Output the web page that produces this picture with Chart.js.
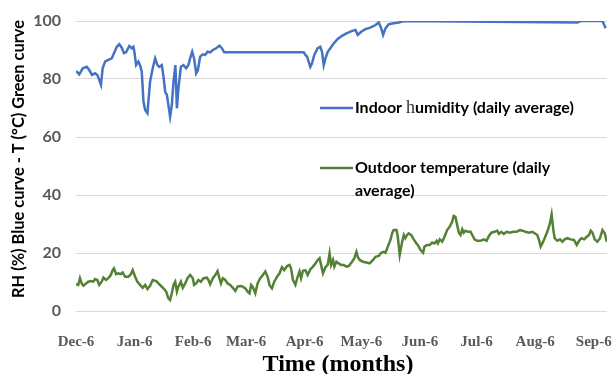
<!DOCTYPE html>
<html>
<head>
<meta charset="utf-8">
<script src="https://cdn.jsdelivr.net/npm/chart.js@4.4.1/dist/chart.umd.min.js"></script>
<style>
  html, body { margin: 0; padding: 0; background: #ffffff; }
  #wrap { width: 613px; height: 374px; }
</style>
</head>
<body>
<div id="wrap"><canvas id="chart" width="613" height="374"></canvas></div>
<script>
// Days counted from 6 December; daily averages.
const humidityDays = [
  0, 1.7, 3.6, 5.7, 7.0, 8.5, 10.1, 11.3, 12.3, 13.2,
  14.1, 15.4, 17.1, 18.9, 20.1, 21.6, 22.9, 24.2, 25.4, 26.5,
  28.2, 29.5, 30.4, 30.9, 31.8, 33.0, 33.9, 34.8, 35.7, 36.6,
  37.8, 39.2, 40.6, 41.9, 43.1, 44.1, 45.4, 46.3, 47.2, 48.1,
  48.9, 49.8, 50.7, 51.6, 52.6, 53.4, 54.2, 55.5, 56.9, 58.3,
  59.5, 60.4, 61.5, 62.5, 63.6, 64.5, 65.7, 67.1, 68.4, 69.6,
  71.0, 72.4, 74.2, 75.9, 77.2, 78.4, 120.5, 121.4, 122.3, 123.1,
  124.0, 124.9, 126.1, 127.9, 129.3, 130.2, 131.1, 132.0, 133.2, 134.6,
  136.4, 138.5, 140.8, 143.1, 146.1, 147.9, 149.1, 150.9, 153.2, 155.8,
  158.5, 160.2, 161.5, 162.5, 163.8, 165.5, 168.1, 170.8, 173.5, 265.3,
  267.0, 278.6, 280.3
];
const humidityValues = [
  82.8, 81.6, 83.7, 84.2, 83.1, 81.4, 82, 81.4, 79.7, 78,
  83.7, 86, 86.6, 87.1, 88.9, 91.1, 92, 90.8, 88.9, 89.2,
  91.4, 90.6, 91.1, 89.4, 84.8, 86, 84.8, 82.5, 72.2, 69.3,
  68.2, 79.1, 83.7, 87.1, 84.8, 84.2, 84.8, 80.8, 75.6, 74.5,
  71, 67, 71, 79.1, 84.8, 69.9, 76.8, 84.2, 84.8, 83.7,
  84.8, 87.1, 89.4, 87.1, 82, 83.1, 87.7, 88.5, 88.3, 89.4,
  89.2, 90, 90.6, 91.5, 90.6, 89.2, 89.2, 88.3, 87.7, 86,
  84.2, 85.4, 88.3, 90.6, 91.1, 89.4, 84.8, 87.1, 89.4, 90.6,
  92.3, 93.8, 94.9, 95.7, 96.6, 96.9, 95.2, 96.3, 97.2, 97.7,
  98.6, 99.5, 97.5, 95.2, 97.5, 98.9, 99.2, 99.5, 100, 99.5,
  100, 100, 97.5
];

const temperatureDays = [
  0, 1.2, 2.1, 3.0, 3.9, 5.3, 6.5, 7.8, 9.2, 10.1,
  11.3, 12.3, 13.6, 14.5, 15.9, 17.1, 18.4, 19.4, 20.1, 21.2,
  22.4, 23.7, 24.7, 26.0, 27.7, 29.0, 30.0, 31.3, 32.5, 33.9,
  35.3, 36.6, 37.8, 39.2, 40.6, 42.4, 43.6, 44.9, 46.3, 47.7,
  48.9, 49.8, 50.7, 51.6, 52.5, 53.4, 54.2, 55.5, 56.5, 57.8,
  59.0, 60.4, 61.8, 62.5, 63.6, 64.8, 66.1, 67.5, 69.3, 70.1,
  71.0, 72.4, 73.7, 74.9, 75.9, 76.7, 77.7, 79.0, 80.2, 81.6,
  83.0, 84.3, 85.5, 86.9, 88.3, 89.6, 90.8, 91.8, 92.7, 93.6,
  94.9, 96.1, 97.5, 98.9, 100.2, 101.4, 102.4, 103.7, 104.9, 106.4,
  107.7, 109.0, 110.2, 111.7, 113.0, 113.8, 114.8, 116.1, 117.3, 118.3,
  119.1, 120.1, 121.4, 122.6, 124.0, 125.4, 126.7, 127.9, 128.9, 129.7,
  130.7, 132.0, 133.2, 134.2, 135.0, 136.0, 136.7, 137.8, 139.0, 140.3,
  141.7, 143.1, 144.3, 146.1, 147.3, 148.4, 149.1, 150.1, 151.9, 153.7,
  155.4, 157.2, 158.5, 160.2, 161.5, 162.9, 163.8, 165.0, 166.4, 167.3,
  168.1, 169.6, 170.3, 171.3, 172.6, 173.5, 174.3, 175.2, 176.1, 177.4,
  178.7, 180.2, 181.4, 182.3, 183.7, 184.4, 185.8, 187.2, 188.5, 189.7,
  190.8, 191.5, 192.5, 193.8, 195.0, 196.4, 197.8, 199.1, 199.9, 200.8,
  201.7, 202.6, 203.5, 204.4, 205.2, 206.1, 207.4, 208.8, 209.7, 210.9,
  212.3, 214.1, 215.8, 217.3, 218.5, 219.8, 221.5, 222.9, 223.8, 225.1,
  226.4, 227.9, 229.6, 231.4, 233.2, 234.9, 236.2, 237.9, 239.7, 241.5,
  242.7, 244.1, 245.0, 245.9, 246.8, 248.0, 249.4, 250.8, 251.7, 252.6,
  253.3, 254.7, 256.1, 257.4, 258.6, 260.0, 261.8, 263.5, 265.0, 266.2,
  267.5, 268.9, 270.3, 271.5, 272.4, 273.3, 274.5, 275.9, 277.3, 278.6,
  279.8, 280.9
];
const temperatureValues = [
  9.2, 9.0, 11.3, 9.5, 8.7, 9.5, 10.1, 10.3, 10.1, 11,
  10.7, 9.0, 10.1, 11.5, 10.7, 11.3, 12.4, 14.1, 14.7, 12.7,
  13, 12.7, 13.3, 11.8, 11.8, 12.7, 14.1, 11.8, 10.1, 9.0,
  8.0, 9.0, 7.6, 8.7, 10.7, 10.3, 9.5, 8.7, 7.8, 6.7,
  4.4, 3.8, 6.1, 9.0, 10.1, 6.7, 8.4, 10.1, 8.0, 9.5,
  11.3, 12.4, 11.3, 9.0, 9.5, 10.7, 10.1, 11.3, 11.5, 10.7,
  9.2, 11.3, 12.4, 13.8, 11.3, 9.5, 11.3, 10.7, 9.5, 9.0,
  8.0, 6.9, 8.4, 8.6, 8.4, 7.8, 6.7, 6.1, 9.0, 8.2,
  6.1, 9.5, 11.3, 12.4, 13.6, 11.8, 9.0, 7.8, 10.1, 11.8,
  13, 15.1, 14.1, 15.5, 15.9, 14.7, 10.7, 9.0, 11.8, 13.6,
  11.3, 13.9, 14.1, 12.4, 14.4, 15.3, 16.4, 17.6, 18.2, 15.9,
  13, 15.1, 15.9, 19.9, 15.9, 17.6, 15.3, 17, 16.4, 15.9,
  15.9, 15.3, 15.5, 17, 18.2, 20.4, 18.7, 17.6, 17, 16.7,
  16.4, 17.6, 18.7, 19, 20.1, 20.4, 20.1, 22.2, 24.5, 26.8,
  27.9, 27.9, 25.6, 19.3, 23.9, 26.2, 25.1, 26.2, 26.8, 26.2,
  24.7, 23.3, 22.2, 21, 20.1, 22.2, 22.8, 22.8, 23.6, 23.3,
  24.2, 23.3, 24.7, 23.9, 25.6, 27.9, 29.1, 30.8, 32.8, 32.5,
  29.7, 27, 26.2, 28.2, 27, 27.7, 27.3, 27.3, 26.2, 24.7,
  24.2, 24.2, 24.7, 24.2, 25.9, 27, 27.3, 27.7, 26.6, 27.3,
  26.6, 27.3, 27, 27.3, 27.3, 27.9, 27.7, 27.3, 27, 27.3,
  26.8, 26.2, 24.5, 22.2, 23.3, 25.1, 27.3, 30.2, 33.3, 27.9,
  25.1, 24.2, 24.7, 23.9, 24.7, 25.1, 24.7, 24.5, 22.8, 24.2,
  25.1, 24.7, 25.6, 26.2, 27.7, 27, 24.7, 23.9, 25.1, 27.9,
  26.8, 23.9
];

// Month ticks (day offsets from 6 December) and their labels.
const monthTickDays = [0, 31, 62, 90, 121, 151, 182, 212, 243, 274];
const monthTickLabels = ['Dec-6', 'Jan-6', 'Feb-6', 'Mar-6', 'Apr-6', 'May-6', 'Jun-6', 'Jul-6', 'Aug-6', 'Sep-6'];

const seriesNames = ['Indoor humidity (daily average)', 'Outdoor temperature (daily average)'];
const yAxisTitle = 'RH (%) Blue curve - T (°C) Green curve';
const xAxisTitle = 'Time (months)';

const BLUE = '#4472c4';
const GREEN = '#548235';
const SANS = 'Lato, "Open Sans", "DejaVu Sans", sans-serif';
const SERIF = '"Liberation Serif", "Times New Roman", serif';

function toPoints(days, values) {
  return days.map((d, i) => ({ x: d, y: values[i] }));
}

// Axis titles and an in-plot legend, drawn on top of the chart.
const annotations = {
  id: 'annotations',
  afterDraw(chart) {
    const ctx = chart.ctx;
    ctx.save();

    // y-axis title, stretched along the axis to its full run
    ctx.save();
    ctx.translate(19, 159);
    ctx.rotate(-Math.PI / 2);
    ctx.fillStyle = '#000000';
    ctx.font = 'bold 17px ' + SANS;
    ctx.textAlign = 'center';
    ctx.textBaseline = 'middle';
    const w = ctx.measureText(yAxisTitle).width;
    ctx.scale(278 / w, 1);
    ctx.fillText(yAxisTitle, 0, 0);
    ctx.restore();

    // x-axis title
    ctx.fillStyle = '#000000';
    ctx.font = 'bold 24px ' + SERIF;
    ctx.textAlign = 'center';
    ctx.textBaseline = 'middle';
    ctx.fillText(xAxisTitle, 338, 365);

    // legend
    const entries = [
      { color: chart.data.datasets[0].borderColor, y: 108, lines: [seriesNames[0]] },
      { color: chart.data.datasets[1].borderColor, y: 168, lines: ['Outdoor temperature (daily', 'average)'] }
    ];
    ctx.textAlign = 'left';
    ctx.textBaseline = 'middle';
    entries.forEach((e) => {
      ctx.strokeStyle = e.color;
      ctx.lineWidth = 2.5;
      ctx.beginPath();
      ctx.moveTo(320, e.y);
      ctx.lineTo(353, e.y);
      ctx.stroke();
      e.lines.forEach((txt, i) => {
        const ty = e.y + i * 23;
        if (txt === seriesNames[0]) {
          // the "h" of this label is set in a serif face
          let x = 355;
          const runs = [
            { t: 'Indoor ', f: 'bold 16px ' + SANS, c: '#000000' },
            { t: 'h', f: '18px ' + SERIF, c: '#333333' },
            { t: 'umidity (daily average)', f: 'bold 16px ' + SANS, c: '#000000' }
          ];
          runs.forEach((r) => {
            ctx.font = r.f;
            ctx.fillStyle = r.c;
            ctx.fillText(r.t, x, ty);
            x += ctx.measureText(r.t).width;
          });
        } else {
          ctx.font = 'bold 16px ' + SANS;
          ctx.fillStyle = '#000000';
          ctx.fillText(txt, 355, ty);
        }
      });
    });

    ctx.restore();
  }
};

new Chart(document.getElementById('chart'), {
  type: 'line',
  data: {
    datasets: [
      {
        label: seriesNames[0],
        data: toPoints(humidityDays, humidityValues),
        borderColor: BLUE,
        borderWidth: 2.5,
        pointRadius: 0,
        tension: 0,
        fill: false
      },
      {
        label: seriesNames[1],
        data: toPoints(temperatureDays, temperatureValues),
        borderColor: GREEN,
        borderWidth: 2.5,
        pointRadius: 0,
        tension: 0,
        fill: false
      }
    ]
  },
  options: {
    responsive: false,
    animation: false,
    devicePixelRatio: 1,
    layout: { padding: { top: 21, right: 6, bottom: 0, left: 0 } },
    plugins: {
      legend: { display: false },
      tooltip: { enabled: false }
    },
    scales: {
      x: {
        type: 'linear',
        min: 0,
        max: 281,
        grid: { display: false, drawTicks: false },
        border: { display: false },
        afterBuildTicks(scale) {
          scale.ticks = monthTickDays.map((v) => ({ value: v }));
        },
        afterFit(scale) {
          scale.height = 63;
          scale.paddingLeft = 0;
          scale.paddingRight = 0;
        },
        ticks: {
          autoSkip: false,
          maxRotation: 0,
          padding: 22,
          color: '#595959',
          font: { family: SERIF, size: 15, weight: 'bold' },
          callback(value) {
            const i = monthTickDays.indexOf(value);
            return i >= 0 ? monthTickLabels[i] : '';
          }
        }
      },
      y: {
        min: 0,
        max: 100,
        grid: { color: '#d9d9d9', lineWidth: 1, drawTicks: false },
        border: { display: false },
        afterFit(scale) {
          scale.width = 76;
          scale.paddingTop = 0;
          scale.paddingBottom = 0;
        },
        ticks: {
          stepSize: 20,
          padding: 15,
          color: '#595959',
          font: { family: SANS, size: 16, weight: 'bold' }
        }
      }
    }
  },
  plugins: [annotations]
});
</script>
</body>
</html>
